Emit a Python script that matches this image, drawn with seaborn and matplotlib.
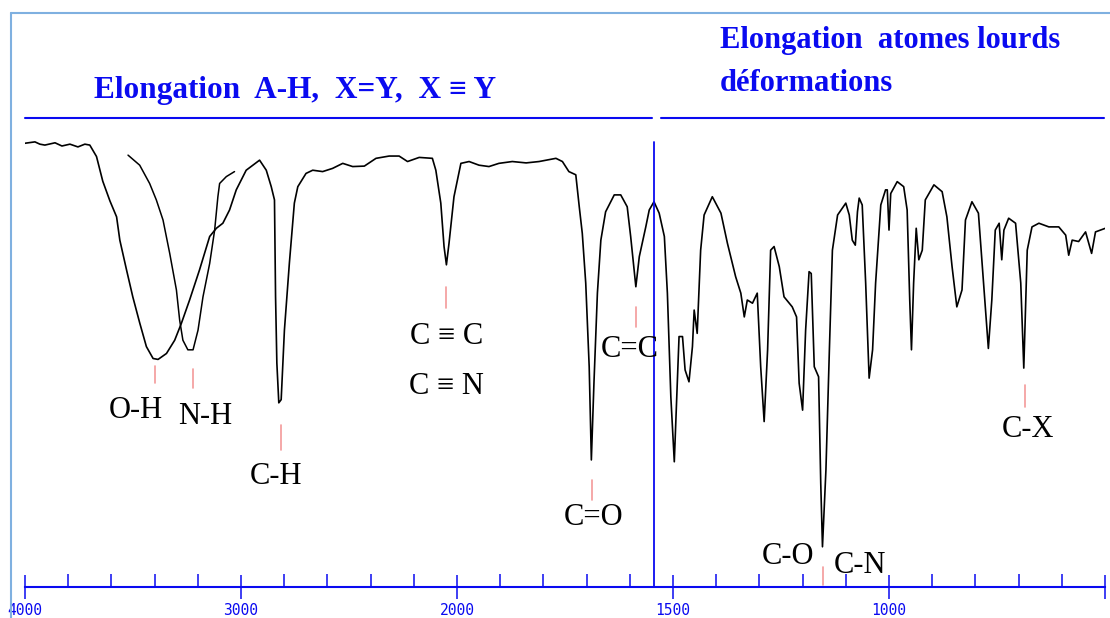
import matplotlib
matplotlib.use("Agg")
import matplotlib.pyplot as plt
import numpy as np
import pandas as pd
import seaborn as sns
from matplotlib.lines import Line2D
from matplotlib.ticker import FixedFormatter, FixedLocator

W, H = 1110, 618

# main spectrum, wavenumber (cm-1) and transmittance (%)
WAVENUMBER = [
    4000, 3954, 3931, 3908, 3861, 3829, 3792, 3755, 3723, 3700, 3669, 3640, 3607, 3576,
    3561, 3530, 3501, 3469, 3438, 3407, 3384, 3345, 3307, 3276, 3238, 3192, 3145, 3114,
    3084, 3053, 3022, 2976, 2945, 2914, 2883, 2860, 2845, 2840, 2834, 2825, 2814, 2799,
    2776, 2753, 2737, 2699, 2668, 2622, 2576, 2529, 2483, 2429, 2375, 2314, 2268, 2229,
    2175, 2114, 2098, 2075, 2060, 2049, 2037, 2014, 1991, 1972, 1949, 1926, 1903, 1872,
    1840, 1810, 1771, 1756, 1741, 1725, 1717, 1710, 1702, 1694, 1689, 1683, 1675, 1667,
    1656, 1636, 1621, 1606, 1598, 1586, 1578, 1563, 1555, 1544, 1532, 1520, 1513, 1505,
    1497, 1490, 1486, 1478, 1472, 1463, 1455, 1451, 1444, 1436, 1428, 1409, 1389, 1374,
    1355, 1343, 1335, 1328, 1316, 1305, 1297, 1289, 1281, 1274, 1266, 1254, 1243, 1224,
    1214, 1208, 1200, 1193, 1185, 1180, 1173, 1163, 1158, 1154, 1146, 1138, 1131, 1119,
    1108, 1100, 1092, 1085, 1078, 1073, 1069, 1062, 1054, 1046, 1038, 1031, 1019, 1008,
    1004, 1000, 996, 981, 966, 958, 952, 948, 943, 937, 931, 923, 916, 896,
    877, 866, 854, 843, 831, 823, 808, 793, 781, 770, 762, 754, 745, 739,
    734, 723, 707, 695, 688, 680, 669, 653, 630, 607, 591, 584, 576, 561,
    545, 531, 522, 499,
]
TRANSMITTANCE = [
    97.1, 97.4, 96.9, 96.7, 97.2, 96.5, 96.9, 96.3, 96.9, 96.7, 94.2, 88.8, 84.5, 81.0,
    75.9, 69.4, 63.5, 57.8, 52.6, 50.0, 49.8, 51.1, 54.0, 57.7, 62.8, 69.4, 76.7, 78.5,
    79.6, 82.5, 86.9, 91.2, 92.3, 93.4, 91.2, 87.6, 84.7, 63.5, 49.0, 40.3, 41.0, 56.2,
    70.9, 84.0, 87.6, 90.5, 91.2, 90.9, 91.6, 92.7, 92.0, 92.1, 93.8, 94.3, 94.3, 93.1,
    94.0, 93.8, 91.2, 84.0, 74.5, 70.5, 75.2, 85.4, 92.7, 93.1, 92.3, 92.0, 92.7, 93.1,
    92.8, 93.1, 93.8, 93.1, 90.9, 90.2, 83.2, 77.4, 66.5, 48.2, 27.8, 44.6, 64.3, 75.9,
    82.1, 85.8, 85.8, 83.2, 76.7, 65.7, 72.3, 78.8, 82.5, 84.3, 81.8, 76.7, 64.3, 41.6,
    27.4, 44.6, 54.8, 54.8, 47.5, 44.9, 52.6, 60.6, 55.5, 73.7, 81.4, 85.4, 81.8, 75.2,
    67.9, 64.3, 59.1, 62.8, 62.1, 64.3, 48.2, 36.2, 51.9, 73.7, 74.5, 70.1, 63.5, 61.3,
    59.1, 44.6, 38.7, 56.2, 69.0, 68.6, 48.2, 46.0, 22.7, 8.8, 25.6, 51.9, 73.7, 81.4,
    82.9, 84.0, 81.4, 75.9, 74.8, 82.1, 85.1, 83.6, 66.5, 45.7, 51.9, 66.5, 83.6, 86.9,
    86.9, 78.1, 86.1, 88.7, 87.6, 82.5, 62.8, 51.9, 66.5, 78.5, 71.6, 73.7, 84.7, 88.0,
    86.5, 81.0, 70.1, 61.3, 65.0, 80.3, 84.3, 81.8, 66.5, 52.2, 62.8, 78.1, 79.6, 71.6,
    78.1, 80.7, 79.6, 66.5, 47.9, 73.7, 78.8, 79.6, 78.8, 78.8, 77.0, 72.6, 75.9, 75.6,
    77.7, 73.0, 77.7, 78.5,
]

# overlaid N-H band
NH_WAVENUMBER = [3523, 3469, 3423, 3392, 3361, 3330, 3299, 3284, 3269, 3246, 3222,
                 3199, 3176, 3145, 3122, 3107, 3099, 3068, 3030]
NH_TRANSMITTANCE = [94.5, 92.3, 88.3, 84.7, 80.3, 73.0, 65.0, 58.4, 54.0, 51.9, 51.9,
                    56.2, 63.5, 70.8, 78.1, 85.4, 88.3, 89.8, 90.9]

BAND_LABELS = ["O-H", "N-H", "C-H", "C ≡ C", "C ≡ N", "C=C", "C=O", "C-O", "C-N", "C-X"]
LABEL_WN = [3487, 3168, 2836, 2050, 2050, 1599, 1685, 1234, 1067, 679]
LABEL_T = [38.7, 37.4, 24.1, 54.9, 43.8, 51.9, 15.3, 6.6, 4.8, 34.4]

MARK_WN = [3396, 3224, 2817, 2049, 1586, 1688, 1153, 686]
MARK_TOP = [48.4, 47.7, 35.4, 65.6, 61.3, 23.4, 4.4, 44.2]
MARK_BOTTOM = [44.6, 43.5, 30.0, 61.0, 56.9, 19.0, 0.4, 39.4]

MAJOR_TICKS = [4000, 3000, 2000, 1500, 1000, 500]
MAJOR_LABELS = ["4000", "3000", "2000", "1500", "1000", ""]
MINOR_TICKS = [3800, 3600, 3400, 3200, 2800, 2600, 2400, 2200, 1900, 1800, 1700, 1600,
               1400, 1300, 1200, 1100, 900, 800, 700, 600]
SPLIT_WN = 1545

LEFT_TITLE = "Elongation  A-H,  X=Y,  X ≡ Y"
RIGHT_TITLE = ["Elongation  atomes lourds", "déformations"]

BLUE = "#0a0af0"
SERIF = ["Liberation Serif", "DejaVu Serif"]


def forward(w):
    w = np.asarray(w, dtype=float)
    return np.where(w >= 2000, (w - 2000) / 2000, (w - 2000) / 1000)


def inverse(p):
    p = np.asarray(p, dtype=float)
    return np.where(p >= 0, 2000 + p * 2000, 2000 + p * 1000)


def fx(x):
    return x / W


def fy(y):
    return 1 - y / H


sns.set_theme(style="white")
plt.rcParams["font.family"] = SERIF

fig = plt.figure(figsize=(W / 100, H / 100), dpi=100)
ax = fig.add_axes([fx(25), fy(587), fx(1105) - fx(25), fy(130) - fy(587)])

main = pd.DataFrame({"wn": WAVENUMBER, "t": TRANSMITTANCE})
nh = pd.DataFrame({"wn": NH_WAVENUMBER, "t": NH_TRANSMITTANCE})
sns.lineplot(data=main, x="wn", y="t", sort=False, estimator=None, color="black", lw=1.2, ax=ax)
sns.lineplot(data=nh, x="wn", y="t", sort=False, estimator=None, color="black", lw=1.1, ax=ax)

ax.set_xscale("function", functions=(forward, inverse))
ax.set_xlim(4000, 500)
ax.set_ylim(0, 100)

ax.axvline(SPLIT_WN, ymin=0, ymax=0.974, color=BLUE, lw=1.3)

for wn, top, bottom in zip(MARK_WN, MARK_TOP, MARK_BOTTOM):
    ax.plot([wn, wn], [bottom, top], color="#f39a9a", lw=1.2, clip_on=False)

for label, wn, t in zip(BAND_LABELS, LABEL_WN, LABEL_T):
    ax.text(wn, t, label, ha="center", va="center", fontsize=22, color="black", family=SERIF)

ax.xaxis.set_major_locator(FixedLocator(MAJOR_TICKS))
ax.xaxis.set_major_formatter(FixedFormatter(MAJOR_LABELS))
ax.xaxis.set_minor_locator(FixedLocator(MINOR_TICKS))
ax.tick_params(axis="x", which="major", direction="inout", length=17, width=1.1,
               color=BLUE, labelcolor=BLUE, labelsize=10.5, pad=3, bottom=True)
ax.tick_params(axis="x", which="minor", direction="in", length=9.5, width=1.1,
               color=BLUE, bottom=True)
for lbl in ax.get_xticklabels():
    lbl.set_family("DejaVu Sans Mono")
ax.set_yticks([])
ax.set_xlabel("")
ax.set_ylabel("")
for side in ["left", "right", "top"]:
    ax.spines[side].set_visible(False)
ax.spines["bottom"].set_color(BLUE)
ax.spines["bottom"].set_linewidth(1.5)
ax.patch.set_alpha(0)

# frame lines and header bars
fig.add_artist(Line2D([fx(10.7), fx(10.7)], [fy(12.5), 0], color="#7fb0e0", lw=1.5))
fig.add_artist(Line2D([fx(10.7), 1], [fy(12.5), fy(12.5)], color="#7fb0e0", lw=1.5))
fig.add_artist(Line2D([fx(25), fx(652)], [fy(118), fy(118)], color=BLUE, lw=1.5))
fig.add_artist(Line2D([fx(661), fx(1104)], [fy(118), fy(118)], color=BLUE, lw=1.5))

fig.text(fx(295), fy(98), LEFT_TITLE, ha="center", va="baseline", fontsize=22.5,
         fontweight="bold", color=BLUE, family=SERIF)
fig.text(fx(720), fy(48), RIGHT_TITLE[0], ha="left", va="baseline", fontsize=22,
         fontweight="bold", color=BLUE, family=SERIF)
fig.text(fx(720), fy(91), RIGHT_TITLE[1], ha="left", va="baseline", fontsize=22,
         fontweight="bold", color=BLUE, family=SERIF)

fig.savefig("out.png", dpi=100, facecolor="white")
